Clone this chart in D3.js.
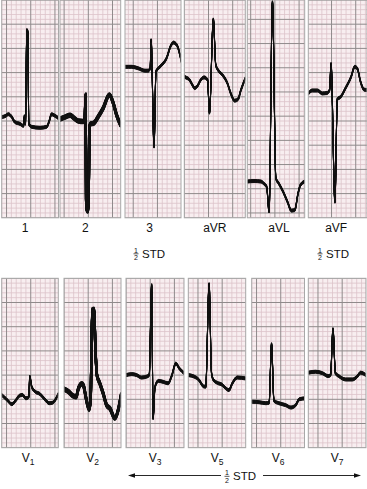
<!DOCTYPE html>
<html><head><meta charset="utf-8">
<script src="https://cdn.jsdelivr.net/npm/d3@7"></script>
<style>
html,body{margin:0;padding:0;background:#fff;}
svg{display:block;font-family:"Liberation Sans",Arial,Helvetica,sans-serif;}
</style></head><body>
<svg id="c" width="367" height="489"></svg>
<script>
// ---------- DATA (paper units: mm of time along the strip, mm of amplitude above the strip bottom) ----------
const topLeads = ["1", "2", "3", "aVR", "aVL", "aVF"];
const bottomLeads = [["V", "1"], ["V", "2"], ["V", "3"], ["V", "5"], ["V", "6"], ["V", "7"]];
const stdNote = ["1", "2", "STD"];

const trace_1 = [[0.0,20.8],[0.7,21.0],[1.4,21.4],[2.1,20.8],[2.7,19.8],[3.8,19.4],[4.5,19.0],[4.7,21.0],[4.9,19.4],[5.2,38.8],[5.4,38.4],[5.6,19.4],[6.2,18.8],[7.9,18.6],[9.3,18.8],[9.8,19.9],[10.3,21.4],[10.8,21.2],[11.7,20.6]];
const trace_2 = [[0.0,20.4],[1.0,20.8],[2.1,21.2],[2.9,20.6],[3.8,20.0],[4.8,19.9],[5.1,20.2],[5.3,25.4],[5.4,3.7],[5.5,1.9],[5.7,1.4],[5.8,1.9],[5.9,3.7],[6.1,18.8],[6.3,19.4],[6.9,19.5],[7.9,20.9],[8.9,22.6],[10.2,25.4],[11.0,23.7],[11.7,21.2],[12.5,19.2]];
const trace_3 = [[0.0,31.2],[1.4,31.2],[2.7,30.9],[4.1,30.4],[4.8,30.4],[5.2,30.9],[5.4,36.7],[6.0,14.7],[6.4,30.2],[6.9,30.9],[7.6,31.6],[8.6,33.0],[9.4,35.4],[10.0,36.2],[10.7,35.7],[11.5,33.0],[12.0,30.5]];
const trace_aVR = [[0.0,29.2],[0.3,29.0],[1.0,28.6],[1.7,27.4],[2.1,26.8],[2.7,27.2],[3.4,28.5],[4.1,29.0],[4.8,28.5],[5.2,21.7],[6.0,41.0],[6.5,31.6],[7.0,30.5],[7.9,29.5],[8.9,27.8],[9.6,25.7],[10.4,24.2],[11.1,24.5],[11.7,26.4],[12.6,28.8]];
const trace_aVL = [[0.0,7.5],[1.4,7.6],[2.8,7.5],[3.5,7.0],[4.0,6.4],[4.5,1.3],[5.2,44.6],[5.9,8.2],[6.5,7.1],[7.4,5.4],[8.3,3.3],[9.1,1.5],[9.8,1.6],[10.5,5.1],[11.0,6.8],[11.9,7.5]];
const trace_aVF = [[0.0,25.7],[0.8,26.3],[1.9,26.3],[2.9,25.7],[3.9,25.8],[4.4,26.4],[4.7,31.8],[5.5,3.3],[6.0,24.5],[6.7,25.0],[7.7,26.8],[8.8,29.0],[9.6,31.2],[10.1,30.9],[10.8,28.1],[11.5,26.5],[12.1,26.4]];
const trace_V1 = [[0.0,10.9],[1.0,10.0],[2.1,9.0],[3.0,9.9],[3.6,10.7],[4.3,10.9],[5.0,10.2],[5.6,10.5],[5.8,14.7],[6.2,12.6],[6.9,11.6],[7.9,11.1],[8.9,10.0],[9.8,9.2],[10.5,9.3],[11.7,11.1]];
const trace_V2 = [[0.0,12.1],[0.9,11.6],[1.9,10.7],[2.5,10.5],[3.0,12.3],[3.7,13.2],[4.1,12.6],[4.5,10.5],[5.2,7.9],[5.5,9.9],[5.85,28.5],[6.2,28.6],[6.5,20.2],[6.8,15.0],[7.4,13.3],[8.1,11.2],[8.8,8.8],[9.5,8.1],[10.5,6.1],[11.2,7.8],[11.8,10.9]];
const trace_V3 = [[0.0,15.0],[1.2,15.2],[2.2,15.0],[3.2,14.5],[4.3,14.7],[4.8,15.0],[5.3,33.6],[5.6,6.1],[6.0,12.6],[6.7,13.8],[7.7,13.6],[8.7,13.3],[9.4,14.7],[10.3,17.4],[11.0,16.4],[12.0,15.4]];
const trace_V5 = [[0.0,15.0],[1.2,14.7],[2.2,14.0],[3.1,12.7],[3.6,12.6],[4.3,33.8],[4.8,15.4],[5.2,14.0],[6.0,13.4],[7.0,13.0],[7.7,12.3],[8.4,11.9],[9.1,13.3],[10.1,14.5],[11.9,14.3]];
const trace_V6 = [[0.0,9.5],[1.5,9.4],[2.9,9.2],[3.6,9.3],[4.1,21.4],[4.6,9.7],[5.6,9.2],[7.0,8.8],[8.1,8.3],[9.1,8.8],[9.8,10.0],[11.0,10.2]];
const trace_V7 = [[0.0,15.5],[1.5,15.7],[2.9,15.4],[4.1,14.8],[4.6,15.0],[5.1,24.5],[5.6,15.4],[6.3,14.8],[7.7,14.1],[9.1,14.1],[10.1,14.7],[10.8,15.5],[11.9,15.0]];

const topTraces = [trace_1, trace_2, trace_3, trace_aVR, trace_aVL, trace_aVF];
const bottomTraces = [trace_V1, trace_V2, trace_V3, trace_V5, trace_V6, trace_V7];

// ---------- LAYOUT / STYLE ----------
const MM = 4.84;                       // px per mm of paper
const rows = [
  { y0: 0, hMM: 45,
    xs: [[1.7,58.5],[60,120.7],[125,181],[184.3,245.3],[247.3,304.7],[308.3,367]],
    phx: [1.0,0.85,1.7,0.0,0.7,4.8], phy: [0,0,0,0,1,0],
    labelY: 232, labelDx: [-5,-5,-3.5,0,3,-1.5] },
  { y0: 278.3, hMM: 35,
    xs: [[1.7,58.3],[64,121],[126,184],[188.3,245.7],[251.7,304.5],[308.3,366]],
    phx: [1.0,0,0,2.0,1.0,2.0], phy: [0,0,0,0,0,0],
    labelY: 462, labelDx: [-2,0,0,0,0,0] }
];
const pens = { "2": 2.4, "V2": 2.4 };
const COL = { bg: "#f8eef0", minor: "#dcc3c9", major: "#8f8a8b", border: "#a8a8a8", ink: "#111" };
const nib = d3.range(-1.5, 1.51, 0.3);

const svg = d3.select("#c");
const defs = svg.append("defs");
let clipN = 0;

function drawPanel(p, data, pen) {
  const w = (p.x1 - p.x0) / MM;
  const x = d3.scaleLinear().domain([0, w]).range([p.x0, p.x1]);
  const y = d3.scaleLinear().domain([0, p.hMM]).range([p.y0 + p.hMM * MM, p.y0]);
  const id = "clip" + (clipN++);
  defs.append("clipPath").attr("id", id).append("rect")
    .attr("x", p.x0).attr("y", p.y0).attr("width", p.x1 - p.x0).attr("height", p.hMM * MM);
  const g = svg.append("g");
  g.append("rect").attr("x", p.x0).attr("y", p.y0).attr("width", p.x1 - p.x0).attr("height", p.hMM * MM)
    .attr("fill", COL.bg);
  const gg = g.append("g").attr("clip-path", `url(#${id})`);
  const vk = d3.range(Math.ceil(-p.phx) - 1, Math.floor(w - p.phx) + 2);
  const hk = d3.range(Math.ceil(-p.phy) - 1, Math.floor(p.hMM - p.phy) + 2);
  const isMajor = k => ((k % 5) + 5) % 5 === 0;
  [false, true].forEach(maj => {
    gg.selectAll(null).data(vk.filter(k => isMajor(k) === maj)).enter().append("line")
      .attr("x1", k => x(p.phx + k)).attr("x2", k => x(p.phx + k))
      .attr("y1", p.y0).attr("y2", p.y0 + p.hMM * MM)
      .attr("stroke", maj ? COL.major : COL.minor).attr("stroke-width", maj ? 1 : 0.8);
    gg.selectAll(null).data(hk.filter(k => isMajor(k) === maj)).enter().append("line")
      .attr("y1", k => y(p.phy + k)).attr("y2", k => y(p.phy + k))
      .attr("x1", p.x0).attr("x2", p.x1)
      .attr("stroke", maj ? COL.major : COL.minor).attr("stroke-width", maj ? 1 : 0.8);
  });
  const line = d3.line().x(d => x(d[0])).y(d => y(d[1])).curve(d3.curveMonotoneX);
  nib.forEach(dy => {
    gg.append("path").attr("d", line(data)).attr("transform", `translate(0,${dy})`)
      .attr("fill", "none").attr("stroke", COL.ink).attr("stroke-width", pen)
      .attr("stroke-linejoin", "round").attr("stroke-linecap", "round");
  });
  g.append("rect").attr("x", p.x0).attr("y", p.y0).attr("width", p.x1 - p.x0).attr("height", p.hMM * MM)
    .attr("fill", "none").attr("stroke", COL.border).attr("stroke-width", 1);
}

rows.forEach((r, ri) => {
  const traces = ri === 0 ? topTraces : bottomTraces;
  r.xs.forEach((xx, i) => {
    const name = ri === 0 ? topLeads[i] : bottomLeads[i].join("");
    drawPanel({ x0: xx[0], x1: xx[1], y0: r.y0, hMM: r.hMM, phx: r.phx[i], phy: r.phy[i] },
      traces[i], pens[name] || 1.0);
    const cx = (xx[0] + xx[1]) / 2 + r.labelDx[i];
    const t = svg.append("text").attr("x", cx).attr("y", r.labelY).attr("text-anchor", "middle")
      .attr("font-size", 12).attr("fill", "#111");
    if (ri === 0) t.text(topLeads[i]);
    else {
      t.append("tspan").text(bottomLeads[i][0]);
      t.append("tspan").attr("font-size", 8.5).attr("dy", 3).text(bottomLeads[i][1]);
    }
  });
});

// "1/2 STD" notes
function halfStd(xl, base) {
  const g = svg.append("g").attr("fill", "#111");
  const fx = xl + 3;
  g.append("text").attr("x", fx).attr("y", base - 4.8).attr("text-anchor", "middle").attr("font-size", 7).text(stdNote[0]);
  g.append("line").attr("x1", fx - 2.5).attr("x2", fx + 2.5).attr("y1", base - 3.7).attr("y2", base - 3.7)
    .attr("stroke", "#111").attr("stroke-width", 0.7);
  g.append("text").attr("x", fx).attr("y", base + 2.8).attr("text-anchor", "middle").attr("font-size", 7).text(stdNote[1]);
  g.append("text").attr("x", xl + 9).attr("y", base).attr("font-size", 11.5).text(stdNote[2]);
}
halfStd(133, 257.5);
halfStd(317, 257.5);

// bottom arrow
const ay = 475.5;
svg.append("line").attr("x1", 133).attr("x2", 221).attr("y1", ay).attr("y2", ay).attr("stroke", "#111").attr("stroke-width", 0.9);
svg.append("line").attr("x1", 263).attr("x2", 356).attr("y1", ay).attr("y2", ay).attr("stroke", "#111").attr("stroke-width", 0.9);
svg.append("path").attr("d", d3.line()([[128, ay], [135, ay - 2.2], [135, ay + 2.2]]) + "Z").attr("fill", "#111");
svg.append("path").attr("d", d3.line()([[361, ay], [354, ay - 2.2], [354, ay + 2.2]]) + "Z").attr("fill", "#111");
halfStd(224, 480);
</script>
</body></html>
